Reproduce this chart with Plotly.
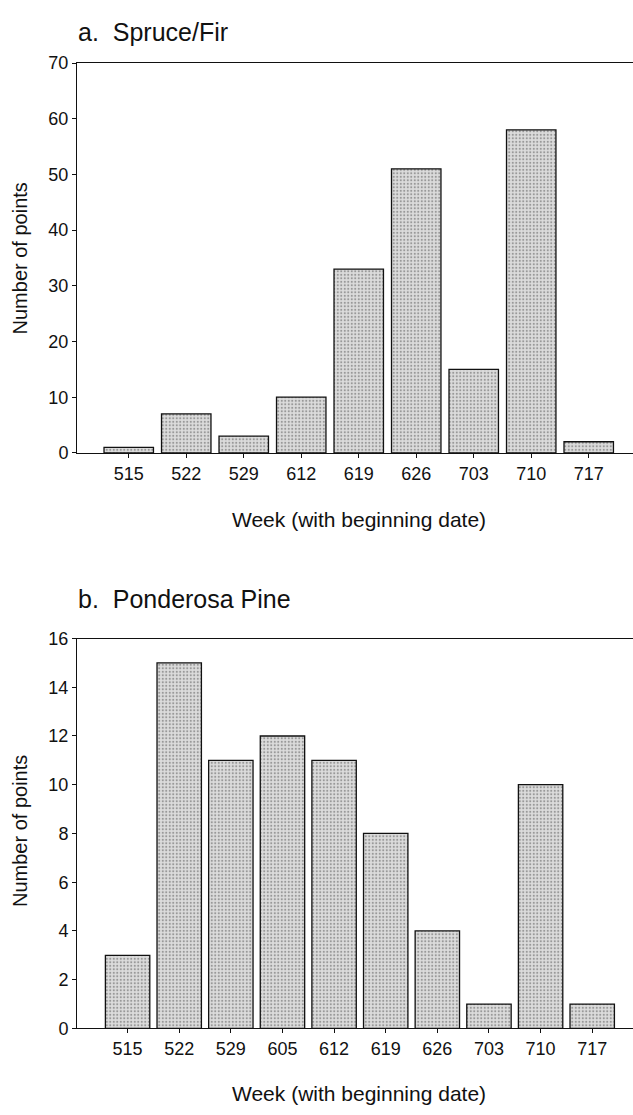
import plotly.graph_objects as go

# Weekly counts of points (week labelled by its beginning date, MDD)
spruce_weeks = ["515", "522", "529", "612", "619", "626", "703", "710", "717"]
spruce_counts = [1, 7, 3, 10, 33, 51, 15, 58, 2]
spruce_yticks = [0, 10, 20, 30, 40, 50, 60, 70]

pine_weeks = ["515", "522", "529", "605", "612", "619", "626", "703", "710", "717"]
pine_counts = [3, 15, 11, 12, 11, 8, 4, 1, 10, 1]
pine_yticks = [0, 2, 4, 6, 8, 10, 12, 14, 16]

W, H = 633, 1115
FONT = "Liberation Sans, Arial, Helvetica, sans-serif"
INK = "#111111"


def px_x(x):
    return x / W


def px_y(y):
    return 1 - y / H


bar_style = dict(
    color="#d4d4d4",
    line=dict(color=INK, width=1.3),
    pattern=dict(shape=".", fgcolor="#555555", bgcolor="#dcdcdc", size=3.5, solidity=0.3),
)

fig = go.Figure()
fig.add_trace(go.Bar(x=spruce_weeks, y=spruce_counts, width=0.86,
                     marker=bar_style, xaxis="x", yaxis="y"))
fig.add_trace(go.Bar(x=pine_weeks, y=pine_counts, width=0.86,
                     marker=bar_style, xaxis="x2", yaxis="y2"))

xcommon = dict(
    type="category", showline=True, linecolor=INK, linewidth=1, mirror=True,
    ticks="outside", ticklen=4, tickcolor=INK, showgrid=False, zeroline=False,
    tickfont=dict(family=FONT, size=18, color=INK), fixedrange=True,
)
ycommon = dict(
    showline=True, linecolor=INK, linewidth=1, ticks="outside", ticklen=4,
    tickcolor=INK, showgrid=False, zeroline=False,
    tickfont=dict(family=FONT, size=18, color=INK), fixedrange=True,
)

fig.update_layout(
    width=W, height=H,
    margin=dict(l=0, r=0, t=0, b=0),
    paper_bgcolor="white", plot_bgcolor="white",
    showlegend=False, bargap=0.14,
    xaxis=dict(xcommon, domain=[px_x(77), 1.0], anchor="y",
               range=[-0.9, 8.77]),
    yaxis=dict(ycommon, domain=[px_y(451), px_y(54)], anchor="x",
               range=[0, 70], tickvals=spruce_yticks),
    xaxis2=dict(xcommon, domain=[px_x(77), 1.0], anchor="y2",
                range=[-0.98, 9.79]),
    yaxis2=dict(ycommon, domain=[px_y(1037), px_y(640)], anchor="x2",
                range=[0, 16], tickvals=pine_yticks),
)

annotations = [
    dict(text="a.\u00a0 Spruce/Fir", x=px_x(76), y=px_y(22), xanchor="left",
         yanchor="middle", font=dict(family=FONT, size=25, color=INK)),
    dict(text="b.\u00a0 Ponderosa Pine", x=px_x(76), y=px_y(600), xanchor="left",
         yanchor="middle", font=dict(family=FONT, size=25, color=INK)),
    dict(text="Number of points", x=px_x(20), y=px_y(253), textangle=-90,
         xanchor="center", yanchor="middle", font=dict(family=FONT, size=20, color=INK)),
    dict(text="Number of points", x=px_x(20), y=px_y(836), textangle=-90,
         xanchor="center", yanchor="middle", font=dict(family=FONT, size=20, color=INK)),
    dict(text="Week (with beginning date)", x=px_x(359), y=px_y(519),
         xanchor="center", yanchor="middle", font=dict(family=FONT, size=21, color=INK)),
    dict(text="Week (with beginning date)", x=px_x(359), y=px_y(1103),
         xanchor="center", yanchor="middle", font=dict(family=FONT, size=21, color=INK)),
]
for a in annotations:
    a.update(xref="paper", yref="paper", showarrow=False)
fig.update_layout(annotations=annotations)

fig.write_html("out.html")
